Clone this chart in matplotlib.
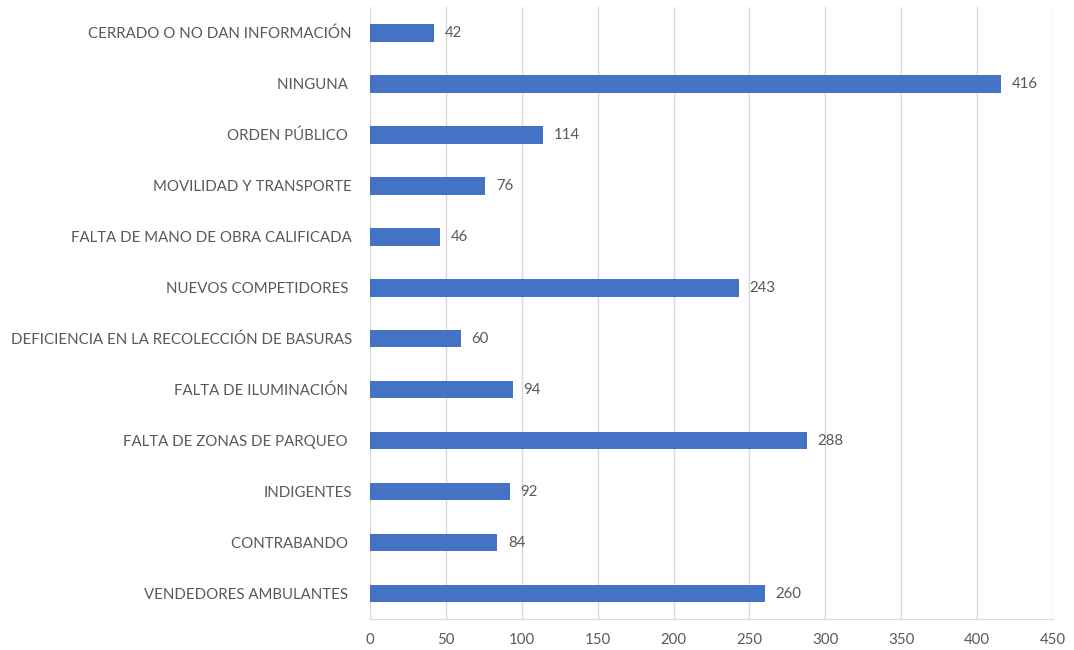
import matplotlib.pyplot as plt

categorias = ['VENDEDORES AMBULANTES ', 'CONTRABANDO ', 'INDIGENTES', 'FALTA DE ZONAS DE PARQUEO ',
              'FALTA DE ILUMINACIÓN ', 'DEFICIENCIA EN LA RECOLECCIÓN DE BASURAS', 'NUEVOS COMPETIDORES ',
              'FALTA DE MANO DE OBRA CALIFICADA', 'MOVILIDAD Y TRANSPORTE', 'ORDEN PÚBLICO ', 'NINGUNA ',
              'CERRADO O NO DAN INFORMACIÓN']
valores = [260, 84, 92, 288, 94, 60, 243, 46, 76, 114, 416, 42]
xticks = [0, 50, 100, 150, 200, 250, 300, 350, 400, 450]

plt.rcParams['font.family'] = ['Lato', 'DejaVu Sans']
gris = '#595959'

fig = plt.figure(figsize=(10.74, 6.5), dpi=100)
ax = fig.add_axes([0.3445, 0.0477, 0.636, 0.9413])
pos = range(len(categorias))
ax.barh(pos, valores, height=0.35, color='#4472C4', zorder=3)
for p, v in zip(pos, valores):
    ax.text(v + 7, p, str(v), va='center', ha='left', fontsize=10.8, color=gris)

ax.set_xlim(0, 450)
ax.set_ylim(-0.5, len(categorias) - 0.5)
ax.set_xticks(xticks)
ax.set_yticks(list(pos))
ax.set_yticklabels(categorias)
ax.tick_params(axis='both', length=0, labelsize=10.8, labelcolor=gris)
ax.tick_params(axis='y', pad=13)
ax.tick_params(axis='x', pad=10)
ax.grid(axis='x', color='#D9D9D9', lw=1, zorder=0)
for s in ['top', 'right', 'left']:
    ax.spines[s].set_visible(False)
ax.spines['bottom'].set_color('#D9D9D9')

plt.savefig('out.png', dpi=100)
